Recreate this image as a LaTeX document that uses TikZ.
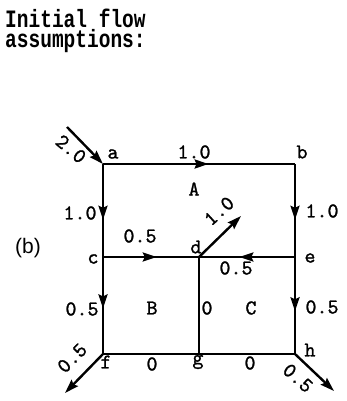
\documentclass[tikz,border=0pt]{standalone}
\usepackage{fontspec}
\usepackage{tikz}
\usetikzlibrary{arrows.meta}
\usetikzlibrary{decorations.markings}
\newfontfamily\titlefont[FakeStretch=0.78]{Liberation Mono}
\newfontfamily\labfont[FakeBold=1.2]{lmmono10-regular.otf}
\newfontfamily\tagfont{Liberation Sans}
\tikzset{
    edge/.style={
        line width=2.4pt,
        black
    },
    % arrow in the middle of an edge
    midarrow/.style={
        edge,
        postaction={decorate},
        decoration={markings,
            mark=at position #1 with {\arrow{Stealth[length=14pt, width=9pt, inset=2pt]}}}
    },
    flowarrow/.style={
        edge,
        -{Stealth[length=14pt, width=9pt, inset=2pt]}
    },
    numlabel/.style={
        inner sep=0pt,
        font=\fontsize{21}{21}\labfont
    }
}

\begin{document}
\begin{tikzpicture}[x=1pt,y=-1pt]
    \useasboundingbox (0,0) rectangle (347,401);

    \coordinate (a) at (103,164);
    \coordinate (b) at (295,164);
    \coordinate (c) at (103,257);
    \coordinate (d) at (199,257);
    \coordinate (e) at (295,257);
    \coordinate (f) at (103,354);
    \coordinate (g) at (199,354);
    \coordinate (h) at (295,354);
    \coordinate (in) at (67,127);
    \coordinate (dout) at (241,216);
    \coordinate (fout) at (65,393);
    \coordinate (hout) at (334,391);

    \draw[midarrow=0.55] (a) -- (b);
    \draw[midarrow=0.6] (a) -- (c);
    \draw[midarrow=0.6] (b) -- (e);
    \draw[midarrow=0.56] (c) -- (d);
    \draw[midarrow=0.58] (e) -- (d);
    \draw[midarrow=0.53] (c) -- (f);
    \draw[midarrow=0.56] (e) -- (h);
    \draw[edge] (d) -- (g);
    \draw[edge] (f) -- (g) -- (h);

    \draw[flowarrow] (in) -- (a);
    \draw[flowarrow] (d) -- (dout);
    \draw[flowarrow] (f) -- (fout);
    \draw[flowarrow] (h) -- (hout);

\node[anchor=north west,inner sep=0pt,align=left,font=\fontsize{25}{17}\titlefont\bfseries] (title) at (5,9) {Initial flow\\assumptions:};
\node[inner sep=0pt,font=\fontsize{21}{21}\tagfont] (tag) at (28,248) {(b)};

\node[numlabel] (la) at (113,154) {a};
\node[numlabel] (lb) at (302,152) {b};
\node[numlabel] (lc) at (93,259) {c};
\node[numlabel] (ld) at (196,247) {d};
\node[numlabel] (le) at (310,258) {e};
\node[numlabel] (lf) at (106,362) {f};
\node[numlabel] (lg) at (198,362) {g};
\node[numlabel] (lh) at (310,350) {h};

\node[numlabel] (rA) at (194,189) {A};
\node[numlabel] (rB) at (152,308) {B};
\node[numlabel] (rC) at (251,308) {C};

\node[numlabel] (fab) at (194,152) {1.0};
\node[numlabel] (fac) at (80,213) {1.0};
\node[numlabel] (fcd) at (140,236) {0.5};
\node[numlabel] (fbe) at (322,211) {1.0};
\node[numlabel] (fed) at (236,268) {0.5};
\node[numlabel] (fcf) at (82,309) {0.5};
\node[numlabel] (feh) at (322,307) {0.5};
\node[numlabel] (fdg) at (207,308) {0};
\node[numlabel] (ffg) at (152,364) {0};
\node[numlabel] (fgh) at (250,363) {0};
\node[numlabel,rotate=-40] (fin) at (71,149) {2.0};
\node[numlabel,rotate=42] (fdo) at (219,211) {1.0};
\node[numlabel,rotate=45] (ffo) at (72,358) {0.5};
\node[numlabel,rotate=-42] (fho) at (298,378) {0.5};
\end{tikzpicture}
\end{document}
